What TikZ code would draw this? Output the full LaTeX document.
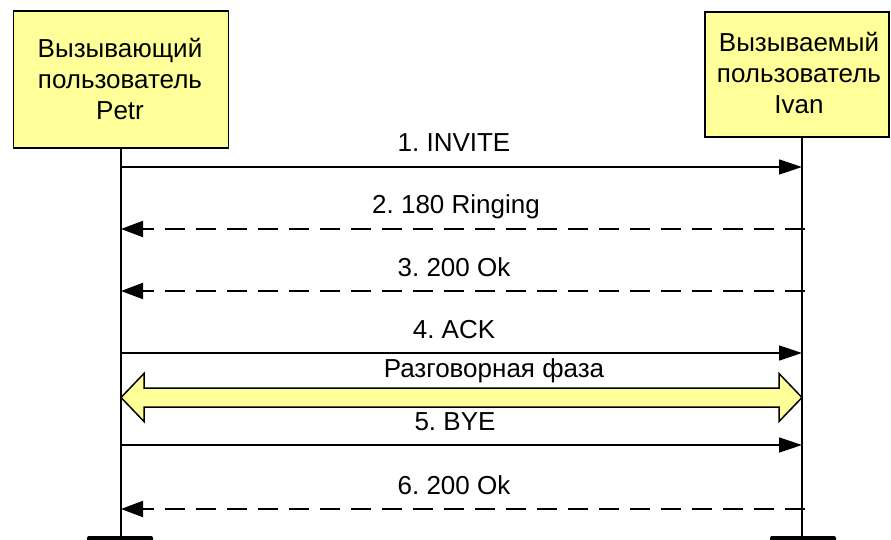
\documentclass[tikz,border=0pt]{standalone}
\usepackage{fontspec}
\setmainfont{Liberation Sans}
\usetikzlibrary{arrows.meta}
\definecolor{noteyellow}{RGB}{255,255,153}
\frenchspacing
\tikzset{
  party/.style={draw=black, line width=1.5pt, fill=noteyellow, inner sep=0pt},
  partytext/.style={align=center, inner sep=0pt, font=\fontsize{26}{31}\selectfont},
  endbar/.style={fill=black, rounded corners=2pt, minimum width=66pt,
    minimum height=10pt, inner sep=0pt},
  lifeline/.style={line width=1.5pt},
  request/.style={line width=1.5pt, -{Triangle[length=23pt,width=15pt]}},
  reply/.style={line width=2pt, dash pattern=on 20pt off 11pt,
    -{Triangle[length=22pt,width=16pt]}},
  msglabel/.style={anchor=base, inner sep=0pt, font=\fontsize{26}{30}\selectfont},
  phase/.style={draw=black, line width=1.5pt, fill=noteyellow, line join=miter}
}
\begin{document}
\begin{tikzpicture}[x=1pt, y=-1pt]
\useasboundingbox (0,0) rectangle (891,540);

% participants
\node[party, minimum width=215pt, minimum height=137pt] (caller) at (121,79.5) {};
\node[partytext] (callerText) at (120,79)
  {Вызывающий\\пользователь\\Petr};
\node[party, minimum width=184pt, minimum height=125pt] (callee) at (797,74.5) {};
\node[partytext] (calleeText) at (799,73)
  {Вызываемый\\пользователь\\Ivan};

% end markers
\node[endbar] (callerEnd) at (120,541) {};
\node[endbar] (calleeEnd) at (803,541) {};

% lifelines
\coordinate (callerTop) at (121,148);
\coordinate (calleeTop) at (802,137);
\draw[lifeline] (callerTop) -- (callerTop |- callerEnd.north);
\draw[lifeline] (calleeTop) -- (calleeTop |- calleeEnd.north);

% message anchor points on the lifelines
\foreach \n/\y in {1/167, 2/229, 3/291, 4/353, 5/445, 6/509, p/397.5} {
  \coordinate (A\n) at (121,\y);
  \coordinate (B\n) at (802,\y);
}
\coordinate (B2s) at (805,229);
\coordinate (B3s) at (805,291);
\coordinate (B6s) at (805,509);

% messages
\draw[request] (A1) -- (B1);
\draw[reply] (B2s) -- (A2);
\draw[reply] (B3s) -- (A3);
\draw[request] (A4) -- (B4);
\draw[request] (A5) -- (B5);
\draw[reply] (B6s) -- (A6);

\node[msglabel] (m1) at (454,152) {1. INVITE};
\node[msglabel] (m2) at (456,214) {2. 180 Ringing};
\node[msglabel] (m3) at (454,276) {3. 200 Ok};
\node[msglabel] (m4) at (454,338) {4. ACK};
\node[msglabel] (m5) at (455,430) {5. BYE};
\node[msglabel] (m6) at (454,494) {6. 200 Ok};

% conversation phase
\draw[phase] (Ap) -- ([shift={(23,-24)}]Ap) -- ([shift={(23,-9.5)}]Ap)
  -- ([shift={(-23,-9.5)}]Bp) -- ([shift={(-23,-24)}]Bp) -- (Bp)
  -- ([shift={(-23,24)}]Bp) -- ([shift={(-23,9.5)}]Bp)
  -- ([shift={(23,9.5)}]Ap) -- ([shift={(23,24)}]Ap) -- cycle;
\node[msglabel] (phaseLabel) at (494,377) {Разговорная фаза};
\end{tikzpicture}
\end{document}
